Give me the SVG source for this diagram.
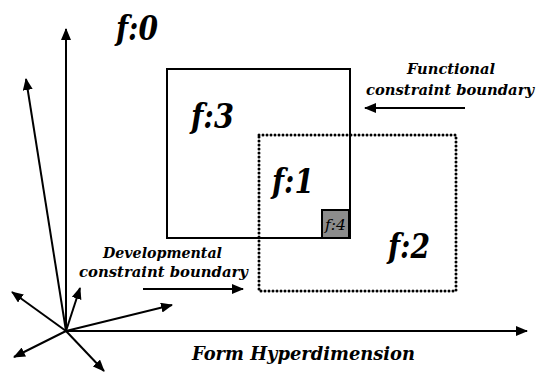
<svg xmlns="http://www.w3.org/2000/svg" width="544" height="375" viewBox="0 0 544 375">
<defs>
<marker id="ah" markerWidth="12" markerHeight="10" refX="11" refY="5" orient="auto" markerUnits="userSpaceOnUse">
<path d="M0,0 L12,5 L0,10 Z" fill="#000"/>
</marker>
<style>
.ax{stroke:#000;stroke-width:2;fill:none;marker-end:url(#ah)}
text{font-family:'DejaVu Serif','Liberation Serif',serif;font-style:italic;fill:#000}
.f{font-size:34px;font-weight:bold}
.note{font-size:15px;font-weight:bold}
</style>
</defs>
<rect width="544" height="375" fill="#fff"/>
<g id="connectors">
<line class="ax" x1="66" y1="331" x2="66" y2="29"/>
<line class="ax" x1="66" y1="331" x2="26" y2="79"/>
<line class="ax" x1="66" y1="331" x2="527" y2="331"/>
<line class="ax" x1="66" y1="331" x2="80" y2="288"/>
<line class="ax" x1="66" y1="331" x2="172" y2="305"/>
<line class="ax" x1="66" y1="331" x2="12" y2="292"/>
<line class="ax" x1="66" y1="331" x2="14" y2="357"/>
<line class="ax" x1="66" y1="331" x2="104" y2="371"/>
<line class="ax" x1="465" y1="108" x2="365" y2="108"/>
<line class="ax" x1="143" y1="289" x2="243" y2="289"/>
</g>
<g id="f3">
<rect x="167" y="69" width="183" height="169" fill="none" stroke="#000" stroke-width="2"/>
<text class="f" x="191" y="128" textLength="43" lengthAdjust="spacingAndGlyphs">f:3</text>
</g>
<g id="f2">
<rect x="259" y="135" width="197" height="156" fill="none" stroke="#000" stroke-width="3" stroke-dasharray="0 4" stroke-linecap="round"/>
<text class="f" x="388" y="258" textLength="42" lengthAdjust="spacingAndGlyphs">f:2</text>
</g>
<g id="f1">
<text class="f" x="272" y="193" textLength="42" lengthAdjust="spacingAndGlyphs">f:1</text>
</g>
<g id="f4">
<rect x="322" y="210" width="27" height="28" fill="#8c8c8c" stroke="#000" stroke-width="2"/>
<text x="325" y="230" font-size="14" textLength="21" lengthAdjust="spacingAndGlyphs">f:4</text>
</g>
<g id="f0">
<text class="f" x="116" y="40" textLength="42" lengthAdjust="spacingAndGlyphs">f:0</text>
</g>
<g id="functional">
<text class="note" x="407" y="74" textLength="88" lengthAdjust="spacingAndGlyphs">Functional</text>
<text class="note" x="366" y="95" textLength="168" lengthAdjust="spacingAndGlyphs">constraint boundary</text>
</g>
<g id="developmental">
<text class="note" x="103" y="258" textLength="119" lengthAdjust="spacingAndGlyphs">Developmental</text>
<text class="note" x="79" y="277" textLength="169" lengthAdjust="spacingAndGlyphs">constraint boundary</text>
</g>
<g id="axis-label">
<text x="192" y="360" font-size="19" font-weight="bold" textLength="223" lengthAdjust="spacingAndGlyphs">Form Hyperdimension</text>
</g>
</svg>
